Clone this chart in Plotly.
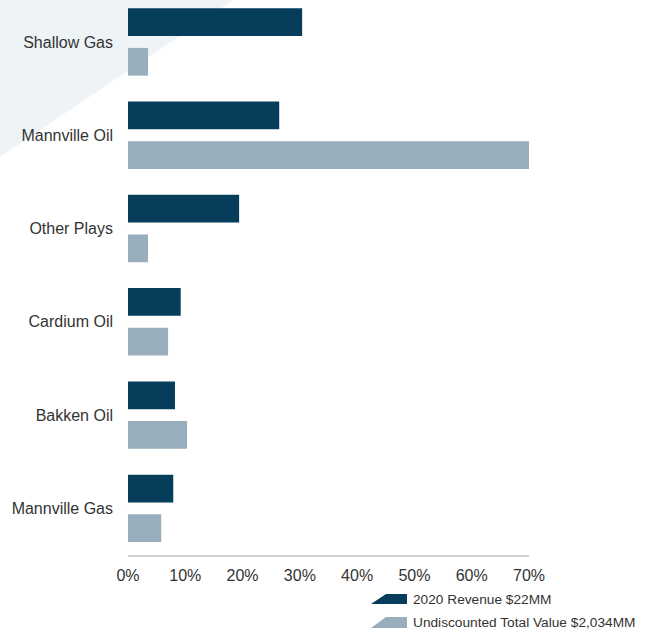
import plotly.graph_objects as go

categories = ["Shallow Gas", "Mannville Oil", "Other Plays", "Cardium Oil", "Bakken Oil", "Mannville Gas"]
revenue_2020 = [0.304, 0.264, 0.194, 0.092, 0.082, 0.079]
undiscounted_value = [0.035, 0.703, 0.035, 0.070, 0.103, 0.058]
series_names = ["2020 Revenue $22MM", "Undiscounted Total Value $2,034MM"]
x_ticks = [0, 0.1, 0.2, 0.3, 0.4, 0.5, 0.6, 0.7]

DARK = "#053D5A"
LIGHT = "#98AEBC"
W, H = 645, 637
L, R, T, B = 128, 116, 0, 82


# pixel -> paper coords (for decoration only)
def px(x):
    return (x - L) / (W - L - R)


def py(y):
    return (H - B - y) / (H - T - B)


fig = go.Figure()
for name, vals, col in [(series_names[0], revenue_2020, DARK),
                        (series_names[1], undiscounted_value, LIGHT)]:
    fig.add_trace(go.Bar(
        y=categories, x=vals, orientation="h", name=name,
        marker=dict(color=col, line=dict(width=0)),
        cliponaxis=False, showlegend=False,
    ))

shapes = [
    # pale triangle top-left
    dict(type="path", xref="paper", yref="paper", layer="below",
         path=f"M {px(0)},{py(0)} L {px(233)},{py(0)} L {px(0)},{py(157)} Z",
         fillcolor="#EEF3F8", line=dict(width=0)),
]
annotations = []
legend_rows = [(series_names[0], DARK, 594, 604), (series_names[1], LIGHT, 617, 628)]
for name, col, top, bot in legend_rows:
    shapes.append(dict(
        type="path", xref="paper", yref="paper",
        path=f"M {px(371)},{py(bot)} L {px(386)},{py(top)} L {px(407)},{py(top)} L {px(407)},{py(bot)} Z",
        fillcolor=col, line=dict(width=0)))
    annotations.append(dict(
        xref="paper", yref="paper", x=px(411), y=py((top + bot) / 2),
        xanchor="left", yanchor="middle", text=name, showarrow=False,
        font=dict(size=13.7, color="#333333")))

fig.update_layout(
    width=W, height=H,
    margin=dict(l=L, r=R, t=T, b=B),
    plot_bgcolor="rgba(0,0,0,0)",
    paper_bgcolor="white",
    barmode="group", bargap=0.15, bargroupgap=0.30,
    font=dict(family="Liberation Sans, Arial, sans-serif", size=16, color="#333333"),
    xaxis=dict(range=[0, 0.7], tickvals=x_ticks, tickformat=".0%",
               showgrid=False, zeroline=False, showline=True,
               linecolor="#D0D0D0", linewidth=2, ticks="", ticklabelstandoff=5),
    yaxis=dict(range=[5.5, -0.45], showgrid=False, zeroline=False,
               showline=False, ticks="", ticklabelstandoff=14),
    shapes=shapes, annotations=annotations,
)

# page body has a default margin; drop it so the figure sits at the corner
fig.write_html("out.html", config={"displayModeBar": False},
               post_script="document.body.style.margin='0';")
